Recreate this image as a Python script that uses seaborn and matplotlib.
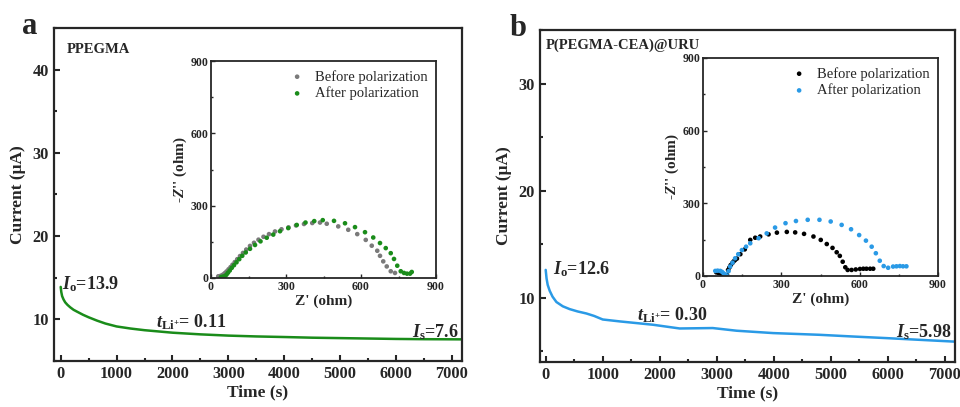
import numpy as np
import pandas as pd
import matplotlib
matplotlib.use("Agg")
import matplotlib.pyplot as plt
import seaborn as sns
from matplotlib.ticker import MultipleLocator

# ---------------- data ----------------
time_a = [0, 10, 25, 50, 80, 120, 170, 230, 300, 400, 500, 650, 800, 1000, 1250,
          1500, 1750, 2000, 2500, 3000, 3500, 4000, 4500, 5000, 5500, 6000,
          6500, 7180]
current_a = [13.9, 13.3, 12.8, 12.4, 12.05, 11.75, 11.45, 11.15, 10.9, 10.55,
             10.25, 9.85, 9.5, 9.15, 8.9, 8.7, 8.55, 8.4, 8.2, 8.05, 7.95, 7.88,
             7.8, 7.75, 7.7, 7.65, 7.62, 7.6]

time_b = [0, 15, 35, 70, 120, 188, 300, 420, 560, 714, 850, 1000, 1300, 1880,
          2350, 2930, 3350, 3990, 4800, 5390, 5980, 6560, 7180]
current_b = [12.6, 11.8, 11.2, 10.65, 10.1, 9.6, 9.2, 8.94, 8.72, 8.53, 8.3,
             7.97, 7.79, 7.48, 7.13, 7.17, 6.92, 6.7, 6.54, 6.38, 6.23, 6.07,
             5.9]

# EIS inset a
zre_a_before = [29, 36, 42, 48, 55, 62, 70, 78, 86, 95, 105, 116, 128, 141, 156,
                172, 190, 210, 232, 256, 282, 310, 340, 372, 405, 436, 463, 509,
                549, 585, 619, 643, 665, 676, 689, 703, 719, 736]
zim_a_before = [7, 8, 10, 14, 20, 27, 36, 45, 55, 66, 78, 91, 104, 118, 133,
                146, 159, 171, 182, 193, 202, 210, 218, 224, 228, 230, 225, 214,
                200, 182, 158, 134, 113, 92, 69, 48, 28, 21]
zre_a_after = [40, 48, 56, 62, 68, 75, 83, 92, 102, 113, 125, 139, 156, 176, 198,
               223, 249, 276, 309, 343, 378, 413, 447, 492, 536, 576, 616, 649,
               676, 699, 719, 732, 745, 759, 772, 784, 796, 803]
zim_a_after = [4, 6, 8, 14, 22, 31, 42, 53, 65, 78, 92, 106, 121, 137, 152,
               167, 180, 194, 207, 220, 230, 236, 240, 237, 227, 211, 190, 168,
               145, 124, 103, 79, 51, 28, 21, 18, 18, 25]

# EIS inset b
zre_b_before = [51, 60, 70, 80, 92, 96, 101, 106, 112, 117, 123, 130, 143, 160,
                181, 200, 219, 251, 283, 321, 353, 387, 423, 451, 474, 496, 512,
                524, 535, 545, 554, 569, 585, 601, 614, 626, 640, 652]
zim_b_before = [15, 12, 8, 5, 4, 25, 35, 45, 53, 60, 66, 72, 90, 110, 149,
                158, 163, 172, 179, 182, 180, 174, 163, 149, 132, 116, 98, 83,
                59, 36, 25, 25, 27, 29, 30, 30, 30, 30]
zre_b_after = [47, 56, 66, 73, 79, 86, 92, 98, 104, 113, 123, 135, 149, 165, 181,
               213, 244, 276, 316, 356, 401, 446, 489, 531, 567, 598, 624, 646,
               662, 677, 692, 709, 728, 741, 754, 766, 779]
zim_b_after = [21, 22, 21, 17, 11, 6, 0, 20, 39, 55, 73, 90, 107, 121, 135,
               156, 176, 200, 218, 227, 232, 232, 225, 211, 193, 169, 146, 121,
               94, 63, 41, 34, 39, 40, 41, 40, 40]

# ---------------- style ----------------
sns.set_theme(style="ticks")
plt.rcParams["font.family"] = ["Liberation Serif", "DejaVu Serif"]
plt.rcParams["font.weight"] = "bold"
plt.rcParams["axes.labelweight"] = "bold"
plt.rcParams["mathtext.fontset"] = "custom"
plt.rcParams["mathtext.rm"] = "Liberation Serif:bold"
plt.rcParams["mathtext.it"] = "Liberation Serif:italic:bold"
plt.rcParams["mathtext.bf"] = "Liberation Serif:bold"

GREEN = "#1a8c1a"
BLUE = "#2a9ae6"
GREY = "#7a7a7a"

fig = plt.figure(figsize=(9.6, 4.07), dpi=100)
W, H = 960, 407


def ax_rect(l, t, r, b):
    return [l / W, 1 - b / H, (r - l) / W, (b - t) / H]


def style_main(ax, xlim, ylim, yticks, yminor):
    ax.set_xlim(*xlim)
    ax.set_ylim(*ylim)
    ax.set_xticks([0, 1000, 2000, 3000, 4000, 5000, 6000, 7000])
    ax.xaxis.set_minor_locator(MultipleLocator(500))
    ax.set_yticks(yticks)
    ax.yaxis.set_minor_locator(MultipleLocator(yminor))
    ax.tick_params(which="both", direction="in", width=1.5, labelsize=11.8)
    ax.tick_params(which="major", length=4.5)
    ax.tick_params(which="minor", length=2.5)
    for lbl in ax.get_xticklabels() + ax.get_yticklabels():
        lbl.set_fontweight("bold")
    for s in ax.spines.values():
        s.set_linewidth(1.6)
        s.set_visible(True)
    ax.set_xlabel("Time (s)", fontsize=12.5, fontweight="bold", labelpad=2)
    ax.set_ylabel("Current (μA)", fontsize=12.5, fontweight="bold", labelpad=5)


def style_inset(ax):
    ax.set_xlim(0, 900)
    ax.set_ylim(0, 900)
    ax.set_xticks([0, 300, 600, 900])
    ax.set_yticks([0, 300, 600, 900])
    ax.xaxis.set_minor_locator(MultipleLocator(150))
    ax.yaxis.set_minor_locator(MultipleLocator(150))
    ax.tick_params(which="both", direction="in", width=1.0, labelsize=8.5, pad=2)
    ax.tick_params(which="major", length=3)
    ax.tick_params(which="minor", length=1.5)
    for lbl in ax.get_xticklabels() + ax.get_yticklabels():
        lbl.set_fontweight("bold")
    for s in ax.spines.values():
        s.set_linewidth(1.3)
        s.set_visible(True)
    ax.set_xlabel("Z' (ohm)", fontsize=11, fontweight="bold", labelpad=1)
    ax.set_ylabel("-$\\it{Z}$'' (ohm)", fontsize=11, fontweight="bold", labelpad=1)


def add_legend(ax):
    ax.legend(loc="upper right", frameon=False, handletextpad=0.2,
              borderaxespad=0.3, labelspacing=0.2, borderpad=0.3,
              prop={"weight": "normal", "size": 10.5})


# ---------------- panel a ----------------
axa = fig.add_axes(ax_rect(54, 28, 462, 361))
df_a = pd.DataFrame({"t": time_a, "I": current_a})
sns.lineplot(data=df_a, x="t", y="I", ax=axa, color=GREEN, lw=1.8)
style_main(axa, (-120, 7180), (5, 45), [10, 20, 30, 40], 5)
axa.text(0.03, 0.955, "PPEGMA", transform=axa.transAxes, fontsize=10.5,
         fontweight="bold", va="top")
axa.text(30, 13.6, "$I_{\\rm o}$=13.9", fontsize=13)
axa.text(1700, 9.0, "$t_{\\rm Li^{+}}$= 0.11", fontsize=13)
axa.text(7120, 7.9, "$I_{\\rm s}$=7.6", fontsize=13, ha="right")
fig.text(22 / W, 1 - 34 / H, "a", fontsize=22, fontweight="bold")

insa = fig.add_axes(ax_rect(211, 61, 436, 278))
df_ab = pd.DataFrame({"x": zre_a_before, "y": zim_a_before})
df_aa = pd.DataFrame({"x": zre_a_after, "y": zim_a_after})
sns.scatterplot(data=df_ab, x="x", y="y", ax=insa, color=GREY, s=11,
                edgecolor="none", label="Before polarization")
sns.scatterplot(data=df_aa, x="x", y="y", ax=insa, color=GREEN, s=11,
                edgecolor="none", label="After polarization")
style_inset(insa)
add_legend(insa)

# ---------------- panel b ----------------
axb = fig.add_axes(ax_rect(540, 30, 955, 362))
df_b = pd.DataFrame({"t": time_b, "I": current_b})
sns.lineplot(data=df_b, x="t", y="I", ax=axb, color=BLUE, lw=1.8)
style_main(axb, (-100, 7180), (4, 35), [10, 20, 30], 5)
axb.text(0.015, 0.975, "P(PEGMA-CEA)@URU", transform=axb.transAxes,
         fontsize=10.5, fontweight="bold", va="top")
axb.text(120, 12.2, "$I_{\\rm o}$=12.6", fontsize=13)
axb.text(1600, 7.9, "$t_{\\rm Li^{+}}$= 0.30", fontsize=13)
axb.text(7120, 6.3, "$I_{\\rm s}$=5.98", fontsize=13, ha="right")
fig.text(510 / W, 1 - 36 / H, "b", fontsize=22, fontweight="bold")

insb = fig.add_axes(ax_rect(703, 58, 938, 276))
df_bb = pd.DataFrame({"x": zre_b_before, "y": zim_b_before})
df_ba = pd.DataFrame({"x": zre_b_after, "y": zim_b_after})
sns.scatterplot(data=df_bb, x="x", y="y", ax=insb, color="black", s=11,
                edgecolor="none", label="Before polarization")
sns.scatterplot(data=df_ba, x="x", y="y", ax=insb, color=BLUE, s=11,
                edgecolor="none", label="After polarization")
style_inset(insb)
add_legend(insb)

fig.savefig("out.png", dpi=100)
